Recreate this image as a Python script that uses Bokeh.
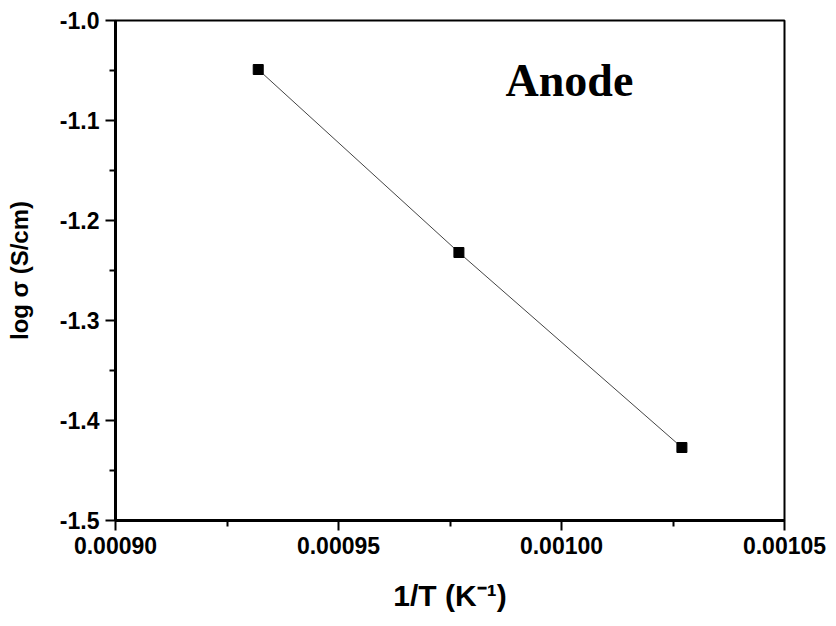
import math
from bokeh.plotting import figure
from bokeh.models import FixedTicker, PrintfTickFormatter, Label
from bokeh.embed import file_html
from bokeh.resources import INLINE

# Data (1/T in K^-1, y value)
inv_T = [0.000932, 0.000977, 0.001027]
y_vals = [-1.049, -1.232, -1.427]

x_major = [0.00090, 0.00095, 0.00100, 0.00105]
x_minor = [0.000925, 0.000975, 0.001025]
y_major = [-1.5, -1.4, -1.3, -1.2, -1.1, -1.0]
y_minor = [-1.45, -1.35, -1.25, -1.15, -1.05]

X0, X1 = 0.00090, 0.00105
Y0, Y1 = -1.5, -1.0
L, R, T, B = 115, 784, 20, 520

def xd(px):
    return X0 + (px - L) / (R - L) * (X1 - X0)

def yd(py):
    return Y1 - (py - T) / (B - T) * (Y1 - Y0)

p = figure(width=836, height=626, x_range=(X0, X1), y_range=(Y0, Y1),
           output_backend="svg", toolbar_location=None,
           min_border_left=L, min_border_right=836 - R,
           min_border_top=T, min_border_bottom=626 - B)
p.background_fill_color = "white"
p.border_fill_color = "white"
p.xgrid.visible = False
p.ygrid.visible = False
p.outline_line_color = "black"
p.outline_line_width = 2

p.xaxis.ticker = FixedTicker(ticks=x_major, minor_ticks=x_minor)
p.yaxis.ticker = FixedTicker(ticks=y_major, minor_ticks=y_minor)
p.xaxis.formatter = PrintfTickFormatter(format="%.5f")
p.yaxis.formatter = PrintfTickFormatter(format="%.1f")

for ax in (p.xaxis, p.yaxis):
    ax.axis_line_width = 3
    ax.axis_line_color = "black"
    ax.major_tick_line_width = 2
    ax.minor_tick_line_width = 2
    ax.major_tick_in = 0
    ax.major_tick_out = 10
    ax.minor_tick_in = 0
    ax.minor_tick_out = 6
    ax.major_label_text_font = "Liberation Sans"
    ax.major_label_text_font_style = "bold"
    ax.major_label_text_font_size = "23px"
    ax.major_label_text_color = "black"
    ax.axis_label_text_font = "Liberation Sans"
    ax.axis_label_text_font_style = "bold"
    ax.axis_label_text_color = "black"
p.xaxis.major_label_standoff = 6
p.yaxis.major_label_standoff = 6

p.xaxis.axis_label = "1/T (K\u207b\u00b9)"
p.xaxis.axis_label_text_font_size = "30px"
p.xaxis.axis_label_standoff = 22

p.yaxis.axis_label = "log σ (S/cm)"
p.yaxis.axis_label_text_font_size = "24px"
p.yaxis.axis_label_standoff = 24

p.line(inv_T, y_vals, line_color="#444444", line_width=1)
p.scatter(inv_T, y_vals, marker="square", size=10, fill_color="black", line_color="black")

p.add_layout(Label(x=xd(505), y=yd(80), text="Anode", text_font="Liberation Serif",
                   text_font_style="bold", text_font_size="46px", text_color="black",
                   text_baseline="alphabetic"))

open("out.html", "w").write(file_html(p, INLINE))
